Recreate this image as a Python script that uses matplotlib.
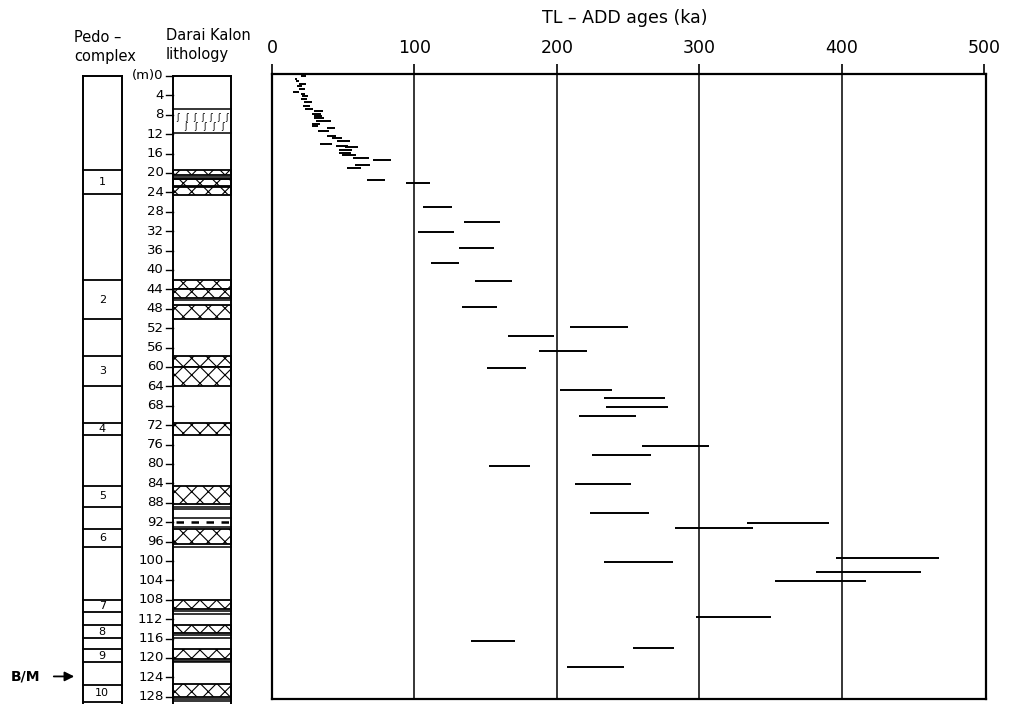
import matplotlib
matplotlib.use("Agg")
import matplotlib.pyplot as plt
from matplotlib.patches import Rectangle
import numpy as np

plt.rcParams['font.family'] = ['DejaVu Sans']
plt.rcParams['hatch.linewidth'] = 0.8

# ---------------- data ----------------
depth_m = [0.1, 0.6, 1.0, 1.65, 2.1, 2.7, 3.2, 3.65, 4.1, 4.8, 5.3, 6.25, 6.8, 7.2, 7.8,
           8.25, 8.7, 9.3, 9.9, 10.25, 10.65, 11.3, 12.3, 12.7, 13.35, 13.95, 14.4, 14.7,
           15.25, 15.9, 16.35, 16.9, 17.3, 18.3, 18.9, 21.5, 22.1, 27.0, 30.2, 32.2, 35.4,
           38.5, 42.3, 47.6, 51.75, 53.7, 56.8, 60.2, 64.7, 66.3, 68.2, 70.0, 76.3, 78.1,
           80.4, 84.1, 90.2, 92.1, 93.2, 99.4, 100.2, 102.2, 104.2, 111.6, 116.5, 118.0, 121.9]
age_min = [20.4, 15.9, 16.9, 18.8, 17.8, 18.8, 15.0, 20.2, 21.1, 20.6, 22.3, 21.8, 23.2, 29.5, 28.1,
           29.3, 29.5, 31.1, 28.1, 28.1, 38.8, 32.3, 38.8, 42.1, 45.4, 33.7, 44.7, 51.5,
           47.4, 47.4, 49.4, 56.6, 70.7, 58.1, 52.9, 67.0, 94.1, 106.3, 135.0, 102.7, 131.5,
           111.7, 142.8, 133.2, 209.1, 165.9, 187.3, 151.0, 202.0, 233.4, 234.6, 215.6, 260.0, 224.7,
           152.2, 212.8, 223.5, 333.8, 282.8, 396.1, 233.1, 381.8, 353.0, 298.0, 139.5, 253.3, 207.2]
age_max = [23.9, 17.8, 19.0, 23.9, 21.3, 23.2, 18.8, 23.4, 25.1, 24.4, 28.3, 26.7, 28.6, 35.6, 34.5,
           35.2, 36.5, 41.4, 33.8, 32.3, 44.5, 40.2, 44.9, 49.2, 54.8, 42.1, 53.1, 60.4,
           56.2, 55.8, 59.0, 67.9, 83.8, 68.8, 62.4, 79.6, 111.0, 126.2, 160.1, 127.8, 155.9,
           131.1, 168.8, 158.0, 249.8, 198.0, 221.0, 178.4, 238.6, 276.0, 277.9, 255.6, 307.1, 265.9,
           181.4, 251.9, 265.0, 390.9, 338.0, 468.6, 281.4, 455.8, 417.1, 350.4, 170.4, 282.5, 247.4]

age_ticks = [0, 100, 200, 300, 400, 500]
depth_ticks = list(range(0, 129, 4))

pedo_labels = ['1', '2', '3', '4', '5', '6', '7', '8', '9', '10']
pedo_top = [19.4, 42.1, 57.7, 71.5, 84.5, 93.3, 108.0, 113.2, 118.1, 125.6]
pedo_bot = [24.4, 50.1, 63.9, 74.0, 88.8, 97.2, 110.6, 115.9, 120.9, 129.0]

hatch_top = [19.4, 21.3, 22.8, 42.1, 44.0, 47.2, 57.7, 60.0, 71.5, 84.6, 93.3, 108.0, 113.2, 118.1, 125.4]
hatch_bot = [20.4, 22.6, 24.5, 44.0, 45.7, 50.1, 60.0, 63.9, 74.0, 88.2, 96.4, 109.9, 114.9, 120.3, 128.0]
litho_lines = [6.8, 11.8, 20.9, 21.2, 46.2, 88.8, 89.2, 91.2, 92.9, 97.2, 110.3, 110.9,
               115.3, 115.9, 120.6, 120.9, 128.4, 128.9]
loess_top, loess_bot = 6.8, 11.8
tephra_depth = 92.0
bm_depth = 123.8

# ---------------- figure ----------------
W, H = 1015, 704
fig = plt.figure(figsize=(W / 100, H / 100), dpi=100)

# main axes
ax = fig.add_axes([272 / W, 1 - 699 / H, (986 - 272) / W, (699 - 74) / H])
ax.hlines(depth_m, age_min, age_max, colors='black', linewidth=1.4)
for t in age_ticks[1:-1]:
    ax.axvline(t, color='black', linewidth=1.1, zorder=0)
ax.set_xlim(0, 501.4)
ax.set_ylim(128.45, -0.41)
ax.xaxis.tick_top()
ax.set_xticks(age_ticks)
ax.set_xticklabels([str(t) for t in age_ticks], fontsize=12.5)
ax.tick_params(axis='x', direction='out', length=7, width=1.2, pad=5)
ax.set_yticks([])
for s in ax.spines.values():
    s.set_linewidth(1.6)
fig.text(625 / W, 1 - 18 / H, 'TL \u2013 ADD ages (ka)', fontsize=12.5, ha='center', va='center')

# left column axes (x in pixel units, same depth scale)
la = fig.add_axes([0, 0, 272 / W, (704 - 74) / H])
la.set_xlim(0, 272)
la.set_ylim((704 - 76) / 4.85, -0.41)
la.axis('off')

bottom = (704 - 76) / 4.85
pl, pr = 83, 121.5
ll, lr = 173.3, 231

# pedo-complex column
la.plot([pl, pl], [0, bottom], color='black', lw=1.4, clip_on=False)
la.plot([pr, pr], [0, bottom], color='black', lw=1.4, clip_on=False)
la.plot([pl, pr], [0, 0], color='black', lw=1.4)
for lab, t, b in zip(pedo_labels, pedo_top, pedo_bot):
    la.plot([pl, pr], [t, t], color='black', lw=1.3)
    la.plot([pl, pr], [b, b], color='black', lw=1.3)
    la.text((pl + pr) / 2, (t + b) / 2, lab, fontsize=8, ha='center', va='center')

# lithology column
la.plot([ll, ll], [0, bottom], color='black', lw=1.4, clip_on=False)
la.plot([lr, lr], [0, bottom], color='black', lw=1.4, clip_on=False)
la.plot([ll, lr], [0, 0], color='black', lw=1.4)
for t, b in zip(hatch_top, hatch_bot):
    la.add_patch(Rectangle((ll, t), lr - ll, b - t, facecolor='white', edgecolor='black',
                           hatch='xx', linewidth=1.3))
for d in litho_lines:
    la.plot([ll, lr], [d, d], color='black', lw=1.1)
# loess symbol rows
for xx in np.linspace(178, 227, 7):
    la.text(xx, loess_top + 1.7, '\u0283', fontsize=6, ha='center', va='center')
for xx in np.linspace(186, 223, 5):
    la.text(xx, loess_top + 3.6, '\u0283', fontsize=6, ha='center', va='center')
la.plot([176, 229], [tephra_depth, tephra_depth], color='black', lw=1.8, linestyle=(0, (3, 3)))

# depth ticks
for d in depth_ticks:
    la.plot([166, ll], [d, d], color='black', lw=1.0)
    lab = '(m)0' if d == 0 else str(d)
    la.text(163.5, d, lab, fontsize=9.5, ha='right', va='center')

# column titles
fig.text(74 / W, 1 - 37 / H, 'Pedo \u2013', fontsize=10.5, ha='left', va='center')
fig.text(74 / W, 1 - 56 / H, 'complex', fontsize=10.5, ha='left', va='center')
fig.text(166 / W, 1 - 36 / H, 'Darai Kalon', fontsize=10.5, ha='left', va='center')
fig.text(166 / W, 1 - 55 / H, 'lithology', fontsize=10.5, ha='left', va='center')

# B/M marker
la.text(11, bm_depth, 'B/M', fontsize=10, fontweight='bold', ha='left', va='center')
la.annotate('', xy=(77, bm_depth), xytext=(51, bm_depth),
            arrowprops=dict(arrowstyle='-|>', color='black', lw=1.3, mutation_scale=14))

fig.savefig('out.png', dpi=100)
